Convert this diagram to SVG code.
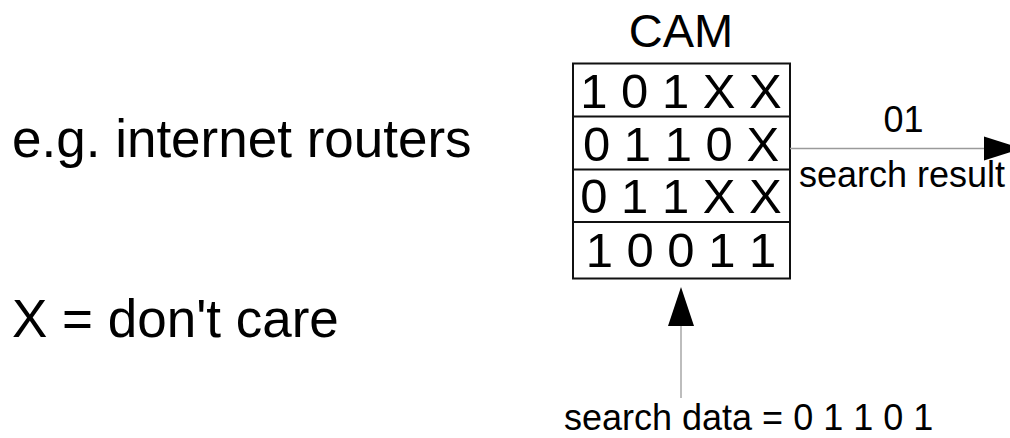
<svg xmlns="http://www.w3.org/2000/svg" width="1010" height="438" viewBox="0 0 1010 438">
<defs>
<style>
text{font-family:"Liberation Sans",Arial,sans-serif;fill:#000}
.big{font-size:53px}
.cell{font-size:49px;text-anchor:middle}
.lbl{font-size:36px}
.conn{stroke:#9a9a9a;stroke-width:1.3;fill:none}
.box{fill:#fff;stroke:#111;stroke-width:2}
</style>
</defs>
<rect width="1010" height="438" fill="#fff"/>
<g id="notes">
<text class="big" x="12" y="157">e.g. internet routers</text>
<text class="big" x="12" y="337">X = don't care</text>
</g>
<g id="cam">
<text x="681" y="47" style="font-size:47px;text-anchor:middle">CAM</text>
<rect class="box" x="573" y="63.5" width="217" height="215"/>
<line class="box" x1="573" y1="116.5" x2="790" y2="116.5"/>
<line class="box" x1="573" y1="169.5" x2="790" y2="169.5"/>
<line class="box" x1="573" y1="222" x2="790" y2="222"/>
<text class="cell" x="681" y="108">1 0 1 X X</text>
<text class="cell" x="681" y="161">0 1 1 0 X</text>
<text class="cell" x="681" y="213">0 1 1 X X</text>
<text class="cell" x="681" y="267">1 0 0 1 1</text>
</g>
<g id="connectors">
<line class="conn" x1="790" y1="148.5" x2="985" y2="148.5"/>
<polygon points="984,136.5 1022,148.5 984,160.5" fill="#000"/>
<line class="conn" x1="681" y1="326" x2="681" y2="398"/>
<polygon points="668,326 681,287 694,326" fill="#000"/>
</g>
<g id="labels">
<text class="lbl" x="903.5" y="132" style="text-anchor:middle">01</text>
<text class="lbl" x="799" y="187">search result</text>
<text class="lbl" x="564" y="430">search data = 0 1 1 0 1</text>
</g>
</svg>
